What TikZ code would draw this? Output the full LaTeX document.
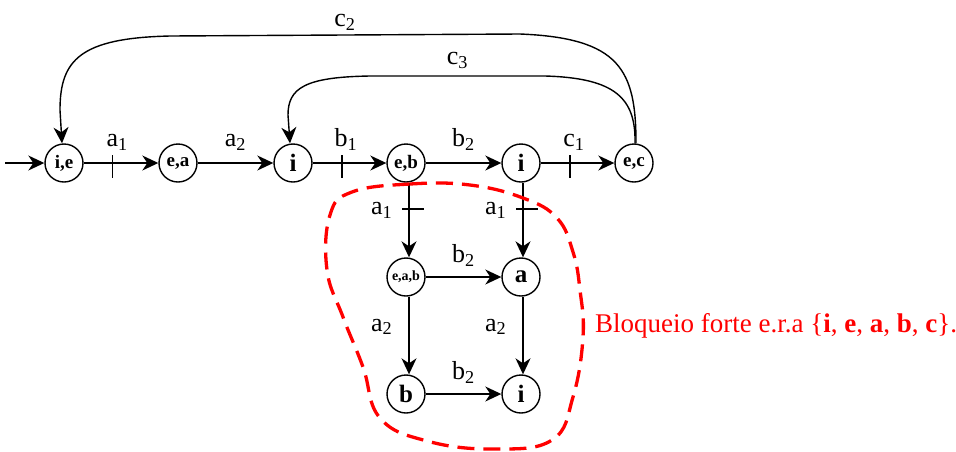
\documentclass[tikz,border=0pt]{standalone}
\usepackage{fontspec}
\setmainfont{Liberation Serif}
\usetikzlibrary{arrows.meta}
\begin{document}
\begin{tikzpicture}[x=1pt,y=-1pt,
  state/.style={circle,draw,line width=1.4pt,minimum size=38pt,inner sep=0pt,
                font=\bfseries\fontsize{19}{19}\selectfont},
  bigstate/.style={state,font=\bfseries\fontsize{25}{25}\selectfont},
  tinystate/.style={state,font=\bfseries\fontsize{14}{14}\selectfont},
  edge/.style={line width=1.4pt,-{Stealth[length=16pt,width=15pt,inset=5pt]}},
  lbl/.style={font=\fontsize{26}{26}\selectfont,inner sep=1pt},
  tickln/.style={line width=1.4pt},
  region/.style={red,line width=3.3pt,dash pattern=on 17pt off 9pt}
]
\useasboundingbox (0,0) rectangle (956,451);

% states of the automaton
\node[state]     (n1)  at (64,163)  {i,e};
\node[state]     (n2)  at (178,163) {e,a};
\node[bigstate]  (n3)  at (293,163) {i};
\node[state]     (n4)  at (406,163) {e,b};
\node[bigstate]  (n5)  at (521,163) {i};
\node[state]     (n6)  at (634,163) {e,c};
\node[tinystate] (n7)  at (406,277) {e,a,b};
\node[bigstate]  (n8)  at (521,277) {a};
\node[bigstate]  (n9)  at (406,394) {b};
\node[bigstate]  (n10) at (521,394) {i};
\coordinate (start) at (5,163);

% initial arrow
\draw[edge] (start) -- (n1);

% top row
\draw[edge] (n1) -- coordinate[pos=0.39] (t1)
  node[lbl,pos=0.45,above=11pt] {a\textsubscript{1}} (n2);
\draw[tickln] ([yshift=8pt]t1) -- ([yshift=-15pt]t1);
\draw[edge] (n2) -- node[lbl,pos=0.5,above=11pt] {a\textsubscript{2}} (n3);
\draw[edge] (n3) -- coordinate[pos=0.4] (t2)
  node[lbl,pos=0.45,above=11pt] {b\textsubscript{1}} (n4);
\draw[tickln] ([yshift=8pt]t2) -- ([yshift=-15pt]t2);
\draw[edge] (n4) -- node[lbl,pos=0.5,above=11pt] {b\textsubscript{2}} (n5);
\draw[edge] (n5) -- coordinate[pos=0.4] (t3)
  node[lbl,pos=0.45,above=11pt] {c\textsubscript{1}} (n6);
\draw[tickln] ([yshift=8pt]t3) -- ([yshift=-15pt]t3);

% return arcs
\draw[edge] ([xshift=2pt]n6.north) .. controls (636,70) and (620,38) .. (520,34)
  -- node[lbl,above=3pt] {c\textsubscript{2}} (170,36)
  .. controls (80,38) and (60,60) .. (60,110) -- ([xshift=-2pt]n1.north);
\draw[edge] ([xshift=1pt]n6.north) .. controls (636,98) and (615,78) .. (545,76)
  -- node[lbl,above=6pt] {c\textsubscript{3}} (370,76)
  .. controls (305,77) and (288,88) .. (288,115) -- ([xshift=-3pt]n3.north);

% lower square
\draw[edge] ([xshift=3pt]n4.south) -- coordinate[pos=0.35] (t4)
  node[lbl,pos=0.37,left=15pt] {a\textsubscript{1}} ([xshift=3pt]n7.north);
\draw[tickln] ([xshift=-7pt]t4) -- ([xshift=15pt]t4);
\draw[edge] ([xshift=2pt]n5.south) -- coordinate[pos=0.35] (t5)
  node[lbl,pos=0.37,left=15pt] {a\textsubscript{1}} ([xshift=2pt]n8.north);
\draw[tickln] ([xshift=-7pt]t5) -- ([xshift=15pt]t5);
\draw[edge] (n7) -- node[lbl,pos=0.5,above=9pt] {b\textsubscript{2}} (n8);
\draw[edge] ([xshift=3pt]n7.south) -- node[lbl,pos=0.39,left=15pt] {a\textsubscript{2}} ([xshift=3pt]n9.north);
\draw[edge] ([xshift=2pt]n8.south) -- node[lbl,pos=0.39,left=15pt] {a\textsubscript{2}} ([xshift=2pt]n10.north);
\draw[edge] (n9) -- node[lbl,pos=0.5,above=9pt] {b\textsubscript{2}} (n10);

% strongly blocking region
\draw[region] plot[smooth cycle, tension=0.7] coordinates {
  (352,192) (410,184) (470,185) (523,198) (557,218) (573,252) (580,290)
  (583,337) (573,397) (552,440) (493,449) (427,441) (380,418) (363,367)
  (343,317) (327,270) (330,215)};
\node[anchor=west,text=red,inner sep=0pt,font=\fontsize{27}{27}\selectfont] (note) at (595,326)
  {Bloqueio forte e.r.a \{\textbf{i}, \textbf{e}, \textbf{a}, \textbf{b}, \textbf{c}\}.};
\end{tikzpicture}
\end{document}
